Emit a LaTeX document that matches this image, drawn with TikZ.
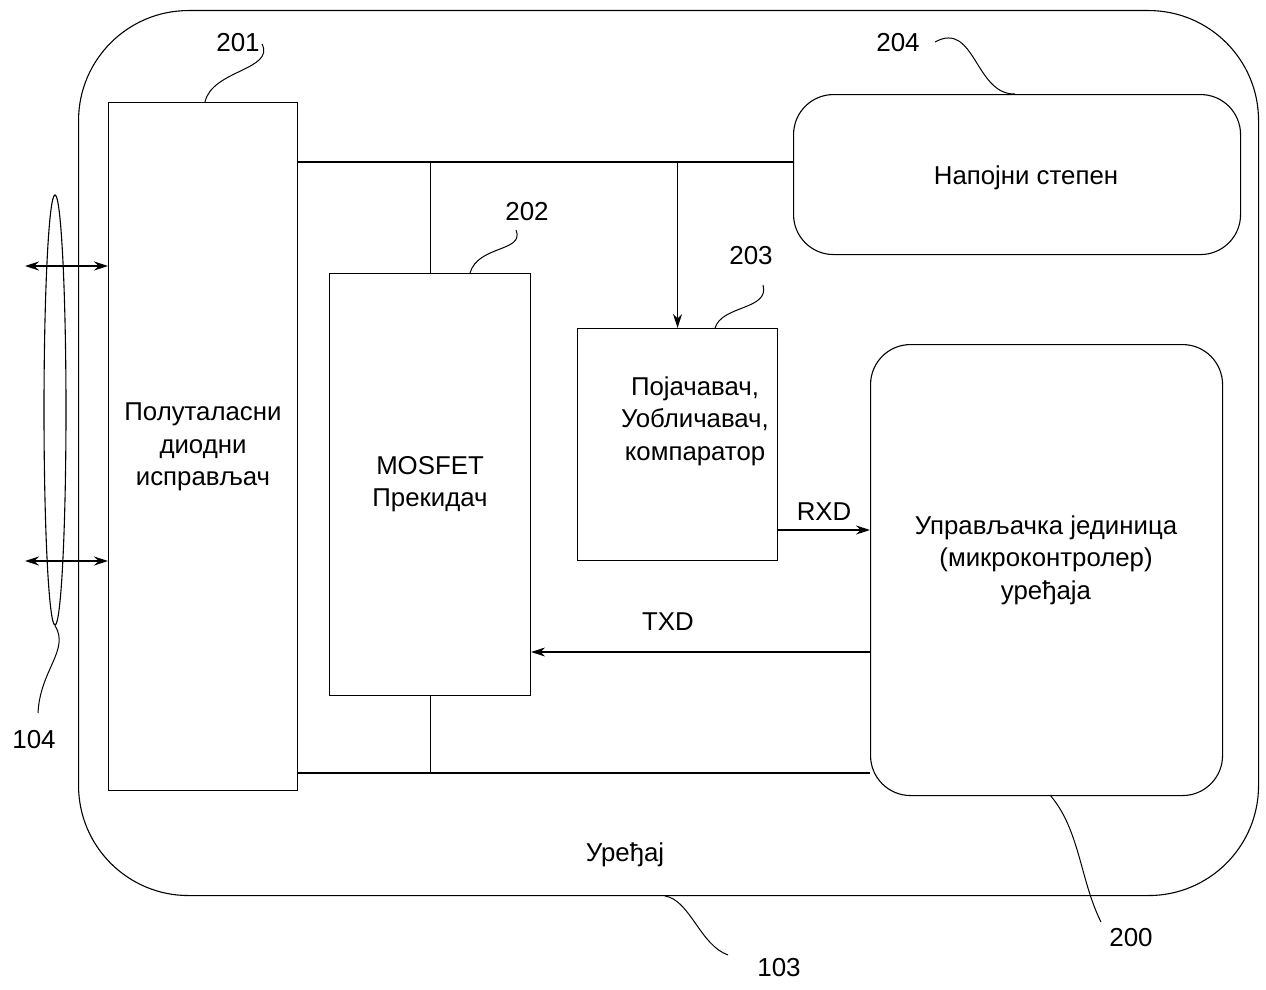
\documentclass[tikz,border=0pt]{standalone}
\usepackage{fontspec}
\setmainfont{Liberation Sans}
\usetikzlibrary{arrows.meta,shapes.geometric}
\begin{document}
\begin{tikzpicture}[x=1pt,y=-1pt,line width=1.1pt,
  blk/.style={draw,inner sep=0pt,anchor=north west},
  rblk/.style={draw,inner sep=0pt,anchor=north west,rounded corners=40pt},
  txt/.style={font=\fontsize{25.8}{32.5}\selectfont,align=center,inner sep=0pt},
  num/.style={font=\fontsize{26}{30}\selectfont,inner sep=0pt},
  arr/.style={-{Stealth[length=14pt,width=9pt]}},
  darr/.style={{Stealth[length=14pt,width=9pt]}-{Stealth[length=14pt,width=9pt]}},
  lead/.style={line width=1pt}]
\path[use as bounding box] (0,0) rectangle (1266,990);
% outer device
\node[draw,inner sep=0pt,anchor=north west,minimum width=1180pt,minimum height=885pt,rounded corners=110pt] (dev) at (78,10) {};
\node[txt] (devt) at (625,855) {Уређај};
% blocks
\node[blk,minimum width=189pt,minimum height=688pt] (b201) at (108,102) {};
\node[txt] (t201) at (203,447) {Полуталасни\\диодни\\исправљач};
\node[blk,minimum width=201pt,minimum height=422pt] (b202) at (329,273) {};
\node[txt] (t202) at (430,484) {MOSFET\\Прекидач};
\node[blk,minimum width=200pt,minimum height=232pt] (b203) at (577,328) {};
\node[txt] (t203) at (695,421) {Појачавач,\\Уобличавач,\\компаратор};
\node[rblk,minimum width=447pt,minimum height=160pt] (b204) at (793,94) {};
\node[txt] (t204) at (1026,178) {Напојни степен};
\node[rblk,minimum width=352pt,minimum height=451pt] (b200) at (870,344) {};
\node[txt] (t200) at (1046,560) {Управљачка јединица\\(микроконтролер)\\уређаја};
% buses
\coordinate (topbus) at (0,162);
\coordinate (botbus) at (0,773);
\coordinate (rx) at (0,530);
\coordinate (tx) at (0,652);
\draw (b201.east |- topbus) -- (b204.west |- topbus);
\draw (b202.north |- topbus) -- (b202.north);
\draw[arr] (b203.north |- topbus) -- (b203.north);
\draw (b201.east |- botbus) -- (b200.west |- botbus);
\draw (b202.south) -- (b202.south |- botbus);
\draw[arr] (b203.east |- rx) -- (b200.west |- rx);
\node[txt] (rxd) at (824,512) {RXD};
\draw[arr] (b200.west |- tx) -- (b202.east |- tx);
\node[txt] (txd) at (668,622) {TXD};
% antenna/ellipse 104
\node[draw,ellipse,minimum width=22pt,minimum height=430pt,inner sep=0pt] (ell) at (55,410) {};
\coordinate (a1) at (25,266);
\coordinate (a2) at (25,561);
\draw[darr] (a1) -- (b201.west |- a1);
\draw[darr] (a2) -- (b201.west |- a2);
% labels and leaders
\node[num] (n201) at (238,43) {201};
\node[num] (n202) at (527,212) {202};
\node[num] (n203) at (751,256) {203};
\node[num] (n204) at (898,43) {204};
\node[num] (n200) at (1131,938) {200};
\node[num] (n103) at (779,968) {103};
\node[num] (n104) at (34,740) {104};
\draw[lead] (262,44) .. controls (275,70) and (212,70) .. (205,102);
\draw[lead] (516,230) .. controls (525,252) and (478,245) .. (470,273);
\draw[lead] (763,285) .. controls (770,310) and (722,305) .. (715,328);
\draw[lead] (935,42) .. controls (975,20) and (975,95) .. (1015,94);
\draw[lead] (1050,795) .. controls (1080,830) and (1080,880) .. (1101,922);
\draw[lead] (665,896) .. controls (690,900) and (700,945) .. (728,955);
\draw[lead] (ell.south) .. controls (70,650) and (40,670) .. (38,713);
\end{tikzpicture}
\end{document}
